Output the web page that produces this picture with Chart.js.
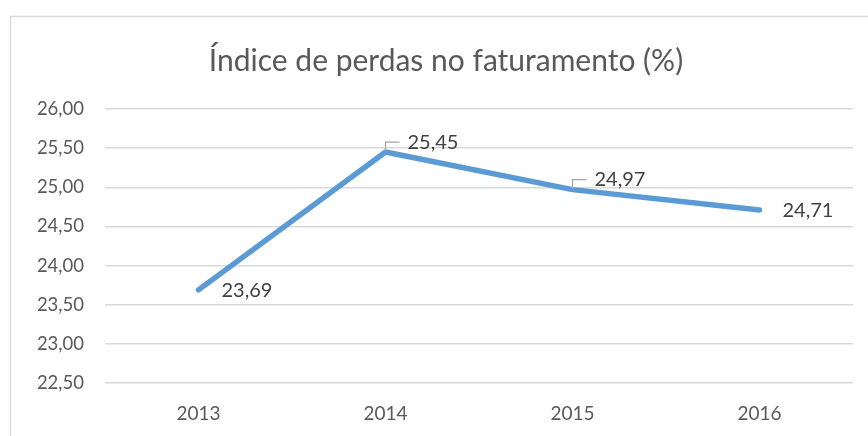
<!DOCTYPE html>
<html>
<head>
<meta charset="utf-8">
<script src="https://cdn.jsdelivr.net/npm/chart.js@4"></script>
<style>
  html, body { margin: 0; padding: 0; background: #fff; }
  #wrap { position: relative; width: 868px; height: 436px; }
</style>
</head>
<body>
<div id="wrap"><canvas id="chart" width="868" height="436"></canvas></div>
<script>
const categories = ['2013', '2014', '2015', '2016'];
const values = [23.69, 25.45, 24.97, 24.71];
const chartTitle = 'Índice de perdas no faturamento (%)';
const yMin = 22.5, yMax = 26, yStep = 0.5;
// which labels get a small leader line (Excel style)
const hasLeader = [false, true, true, false];

function formatComma(v) {
    return Number(v).toFixed(2).replace('.', ',');
}

// frame of the chart object (only top and left edges are visible in the picture)
const framePlugin = {
    id: 'frame',
    beforeDraw(chart) {
        const ctx = chart.ctx;
        ctx.save();
        ctx.strokeStyle = '#d9d9d9';
        ctx.lineWidth = 1.5;
        ctx.beginPath();
        ctx.moveTo(10.5, 436);
        ctx.lineTo(10.5, 16.5);
        ctx.lineTo(868, 16.5);
        ctx.stroke();
        ctx.restore();
    }
};

// the title is centred on the whole (cropped) chart object, not on the canvas,
// so the built-in title only reserves the space and this draws the text
const titlePlugin = {
    id: 'offsetTitle',
    afterDraw(chart) {
        const ctx = chart.ctx;
        ctx.save();
        ctx.font = '30px Lato';
        ctx.fillStyle = '#595959';
        ctx.textAlign = 'center';
        ctx.textBaseline = 'middle';
        ctx.fillText(chartTitle, 446, 61);
        ctx.restore();
    }
};

const labelPlugin = {
    id: 'pointLabels',
    afterDatasetsDraw(chart) {
        const ctx = chart.ctx;
        const meta = chart.getDatasetMeta(0);
        ctx.save();
        ctx.font = '20px Lato';
        ctx.fillStyle = '#404040';
        ctx.textBaseline = 'middle';
        ctx.textAlign = 'left';
        meta.data.forEach((pt, i) => {
            const text = formatComma(values[i]);
            if (hasLeader[i]) {
                ctx.strokeStyle = '#a6a6a6';
                ctx.lineWidth = 1.2;
                ctx.beginPath();
                ctx.moveTo(pt.x, pt.y - 1);
                ctx.lineTo(pt.x, pt.y - 10);
                ctx.lineTo(pt.x + 14, pt.y - 10);
                ctx.stroke();
                ctx.fillText(text, pt.x + 22, pt.y - 10);
            } else {
                ctx.fillText(text, pt.x + 23, pt.y + 1);
            }
        });
        ctx.restore();
    }
};

const ctx = document.getElementById('chart').getContext('2d');
new Chart(ctx, {
    type: 'line',
    data: {
        labels: categories,
        datasets: [{
            data: values,
            borderColor: '#5b9bd5',
            borderWidth: 5.5,
            borderCapStyle: 'round',
            borderJoinStyle: 'round',
            pointRadius: 0,
            tension: 0,
            fill: false
        }]
    },
    options: {
        responsive: false,
        animation: false,
        layout: { padding: { left: 0, right: 15, top: 0, bottom: 0 } },
        plugins: {
            legend: { display: false },
            tooltip: { enabled: false },
            title: {
                display: true,
                text: '',
                font: { family: 'Lato', size: 30, weight: 'normal' },
                padding: { top: 43, bottom: 30 }
            }
        },
        scales: {
            x: {
                offset: true,
                grid: { display: false, drawTicks: false },
                border: { display: false },
                ticks: {
                    color: '#595959',
                    font: { family: 'Lato', size: 19 },
                    padding: 19
                },
                afterFit(scale) { scale.height = 53; }
            },
            y: {
                min: yMin,
                max: yMax,
                grid: { color: '#d9d9d9', lineWidth: 1.5, drawTicks: false },
                border: { display: false },
                ticks: {
                    stepSize: yStep,
                    color: '#595959',
                    font: { family: 'Lato', size: 18.5 },
                    padding: 21,
                    callback: (v) => formatComma(v)
                },
                afterFit(scale) { scale.width = 105; }
            }
        }
    },
    plugins: [framePlugin, titlePlugin, labelPlugin]
});
</script>
</body>
</html>
